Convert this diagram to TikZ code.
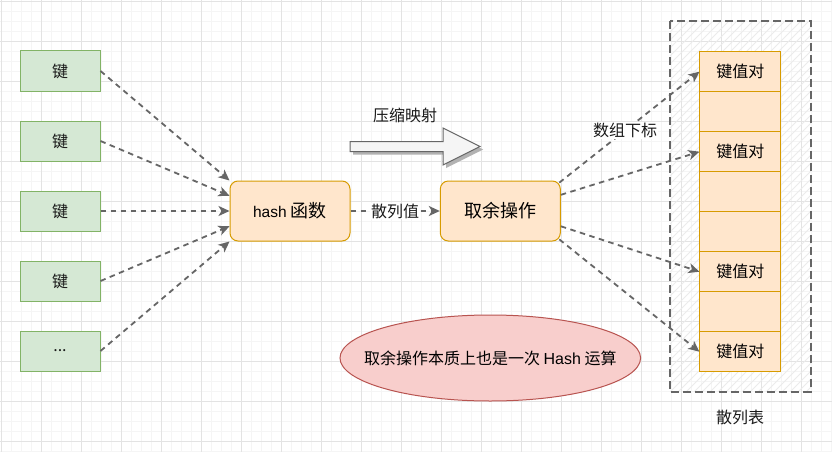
\documentclass[tikz,border=0pt]{standalone}
\usepackage{fontspec}
\setmainfont{Noto Sans CJK SC}
\newfontfamily\lat{Liberation Sans}
\usetikzlibrary{arrows.meta,shapes.geometric,calc}
\definecolor{gfill}{HTML}{D5E8D4}
\definecolor{gstroke}{HTML}{82B366}
\definecolor{ofill}{HTML}{FFE6CC}
\definecolor{ostroke}{HTML}{D79B00}
\definecolor{rfill}{HTML}{F8CECC}
\definecolor{rstroke}{HTML}{B85450}
\definecolor{conncol}{HTML}{666666}
\definecolor{minorgrid}{HTML}{F5F5F5}
\definecolor{majorgrid}{HTML}{E3E3E3}
\definecolor{hatchcol}{HTML}{EBEBEB}
\definecolor{arrowfill}{HTML}{F5F5F5}
\definecolor{txt}{HTML}{1A1A1A}
\begin{document}
\begin{tikzpicture}[x=1pt,y=-1pt,
  keybox/.style={draw=gstroke, fill=gfill, line width=1pt, minimum width=80pt, minimum height=40pt, inner sep=0pt, text=txt, font=\fontsize{16}{19}\selectfont},
  mainbox/.style={draw=ostroke, fill=ofill, line width=1pt, rounded corners=8pt, minimum width=120pt, minimum height=60pt, inner sep=0pt, text=black, font=\fontsize{18}{21}\selectfont},
  rowbox/.style={draw=ostroke, fill=ofill, line width=1pt, minimum width=80.7pt, minimum height=40pt, inner sep=0pt, text=black, font=\fontsize{16}{19}\selectfont},
  conn/.style={draw=conncol, line width=1.8pt, dash pattern=on 5.5pt off 4.5pt, -{Stealth[length=11pt,width=10pt,inset=3pt,fill=conncol]}},
  lbl/.style={text=txt, font=\fontsize{16}{19}\selectfont, inner sep=1pt},
  hatch/.style={draw=hatchcol, line width=0.8pt}
]
\useasboundingbox (0,0) rectangle (832,452);
\fill[white] (0,0) rectangle (832,452);
% grid
\foreach \i in {0,...,83} {
  \draw[minorgrid, line width=0.8pt] (1.7+\i*10,0) -- (1.7+\i*10,452);
}
\foreach \i in {0,...,45} {
  \draw[minorgrid, line width=0.8pt] (0,1.7+\i*10) -- (832,1.7+\i*10);
}
\foreach \i in {0,...,20} {
  \draw[majorgrid, line width=0.9pt] (1.7+\i*40,0) -- (1.7+\i*40,452);
}
\foreach \i in {0,...,11} {
  \draw[majorgrid, line width=0.9pt] (0,1.7+\i*40) -- (832,1.7+\i*40);
}
% container hatch
\begin{scope}
  \clip (670,21) rectangle (810.7,391.7);
  \foreach \i in {0,...,72} {
    \draw[hatch] (262+\i*8,400) -- ++(400,-400);
  }
\end{scope}
\draw[conncol, line width=2.2pt, dash pattern=on 8pt off 4pt] (670,21) rectangle (810.7,391.7);
% left keys
\node[keybox] (k1) at (60,71) {键};
\node[keybox] (k2) at (60,141) {键};
\node[keybox] (k3) at (60,211) {键};
\node[keybox] (k4) at (60,281) {键};
\node[keybox] (k5) at (60,351) {...};
% main boxes
\node[mainbox] (hash) at (290,211) {{\lat\fontsize{15.5}{19}\selectfont hash }函数};
\node[mainbox] (rem) at (500.3,211) {取余操作};
% table rows
\node[rowbox] (r1) at (740.3,71.7) {键值对};
\node[rowbox] (r2) at (740.3,111.7) {};
\node[rowbox] (r3) at (740.3,151.7) {键值对};
\node[rowbox] (r4) at (740.3,191.7) {};
\node[rowbox] (r5) at (740.3,231.7) {};
\node[rowbox] (r6) at (740.3,271.7) {键值对};
\node[rowbox] (r7) at (740.3,311.7) {};
\node[rowbox] (r8) at (740.3,351.7) {键值对};
% ellipse
\node[ellipse, draw=rstroke, fill=rfill, line width=1pt, minimum width=300.6pt, minimum height=86pt, inner sep=0pt, text=black, font=\fontsize{16}{19}\selectfont] (note) at (490.3,358) {\makebox[0pt][c]{取余操作本质上也是一次 {\lat Hash} 运算}};
% big arrow
\fill[black!30] (353,144.5) -- (446,144.5) -- (446,131) -- (483,149.5) -- (446,168) -- (446,154.5) -- (353,154.5) -- cycle;
\draw[conncol, fill=arrowfill, line width=1pt] (350,141.5) -- (443,141.5) -- (443,128) -- (480,146.5) -- (443,165) -- (443,151.5) -- (350,151.5) -- cycle;
\node[lbl] (comp) at (405,115) {压缩映射};
\node[lbl] (tbl) at (740,417) {散列表};
% left connectors
\draw[conn] (k1.east) -- ($(hash.north west)!0!(hash.south west)$);
\draw[conn] (k2.east) -- ($(hash.north west)!0.25!(hash.south west)$);
\draw[conn] (k3.east) -- ($(hash.north west)!0.5!(hash.south west)$);
\draw[conn] (k4.east) -- ($(hash.north west)!0.75!(hash.south west)$);
\draw[conn] (k5.east) -- ($(hash.north west)!1!(hash.south west)$);
% hash to rem
\draw[conn] (hash.east) -- node[lbl, fill=white] (hv) {散列值} (rem.west);
% right connectors
\draw[conn] ($(rem.north east)!0.035!(rem.south east)+(-1.5,0)$) -- node[lbl, fill=white, pos=0.47] (idx) {数组下标} (r1.west);
\draw[conn] ($(rem.north east)!0.235!(rem.south east)$) -- (r3.west);
\draw[conn] ($(rem.north east)!0.75!(rem.south east)$) -- (r6.west);
\draw[conn] ($(rem.north east)!0.965!(rem.south east)+(-1.5,0)$) -- (r8.west);
\end{tikzpicture}
\end{document}
